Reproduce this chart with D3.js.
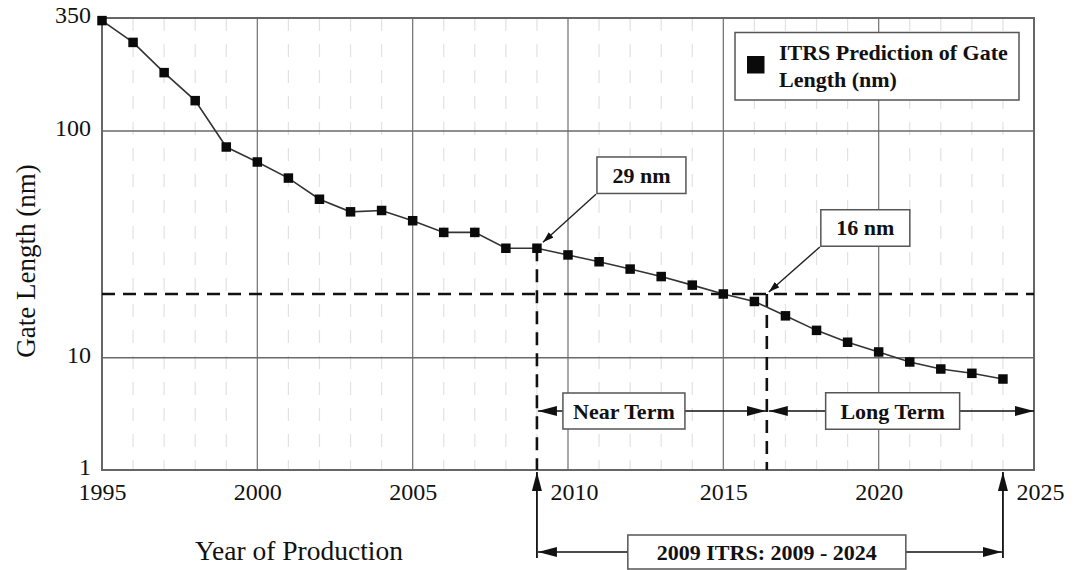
<!DOCTYPE html>
<html>
<head>
<meta charset="utf-8">
<script src="https://cdn.jsdelivr.net/npm/d3@7"></script>
<style>
  body { margin: 0; background: #fff; }
  text { font-family: "Liberation Serif", "Times New Roman", serif; fill: #111; }
</style>
</head>
<body>
<svg id="chart" width="1079" height="570"></svg>
<script>
// ITRS gate length prediction (nm)
const years = [1995, 1996, 1997, 1998, 1999, 2000, 2001, 2002, 2003, 2004,
               2005, 2006, 2007, 2008, 2009, 2010, 2011, 2012, 2013, 2014,
               2015, 2016, 2017, 2018, 2019, 2020, 2021, 2022, 2023, 2024];
const gateLength = [340, 267, 191, 140, 85, 73, 62, 50, 44, 44.6,
                    40.2, 35.7, 35.7, 30.4, 30.4, 28.4, 26.5, 24.6, 22.8, 20.9,
                    19.1, 17.7, 15.3, 13.2, 11.7, 10.6, 9.16, 7.93, 7.26, 6.46];
const xTicks = [1995, 2000, 2005, 2010, 2015, 2020, 2025];
const yTicks = [1, 10, 100, 350];
const refLevel = 19.1;          // horizontal dashed line
const nearStart = 2009, nearEnd = 2016.4, roadmapEnd = 2024;

const svg = d3.select('#chart');
const margin = { top: 18, right: 45, bottom: 100, left: 102 };
const width = +svg.attr('width');
const height = +svg.attr('height');
const pLeft = margin.left, pRight = width - margin.right;
const pTop = margin.top, pBottom = height - margin.bottom;

const x = d3.scaleLinear().domain([1995, 2025]).range([pLeft, pRight]);
// the decades are not drawn the same height, so the log scale is piecewise
const y = d3.scaleLog().domain([1, 10, 100, 350]).range([pBottom, 357.7, 131, pTop]);

const defs = svg.append('defs');
function arrowHead(id, len, wid) {
  defs.append('marker').attr('id', id)
    .attr('viewBox', `0 0 ${len} ${wid}`)
    .attr('refX', len).attr('refY', wid / 2)
    .attr('markerWidth', len).attr('markerHeight', wid)
    .attr('markerUnits', 'userSpaceOnUse')
    .attr('orient', 'auto-start-reverse')
    .append('path')
    .attr('d', `M0,0L${len},${wid / 2}L0,${wid}Z`)
    .attr('fill', '#111');
}
arrowHead('big', 19, 10);
arrowHead('small', 11, 7);

// minor dashed gridlines, one per year
svg.append('g').selectAll('line')
  .data(d3.range(1996, 2025).filter(d => d % 5 !== 0))
  .join('line')
  .attr('x1', d => x(d)).attr('x2', d => x(d))
  .attr('y1', pTop).attr('y2', pBottom)
  .attr('stroke', '#e2e2e2').attr('stroke-width', 1.2)
  .attr('stroke-dasharray', '13,13');

// major gridlines
svg.append('g').selectAll('line')
  .data(xTicks.slice(1, -1))
  .join('line')
  .attr('x1', d => x(d)).attr('x2', d => x(d))
  .attr('y1', pTop).attr('y2', pBottom)
  .attr('stroke', '#7a7a7a').attr('stroke-width', 1.3);
svg.append('g').selectAll('line')
  .data([10, 100])
  .join('line')
  .attr('x1', pLeft).attr('x2', pRight)
  .attr('y1', d => y(d)).attr('y2', d => y(d))
  .attr('stroke', '#6a6a6a').attr('stroke-width', 1.5);

svg.append('rect')
  .attr('x', pLeft).attr('y', pTop)
  .attr('width', pRight - pLeft).attr('height', pBottom - pTop)
  .attr('fill', 'none').attr('stroke', '#666').attr('stroke-width', 2);

// axes
svg.append('g')
  .attr('transform', `translate(0,${pBottom})`)
  .call(d3.axisBottom(x).tickValues(xTicks).tickFormat(d3.format('d')).tickSize(0).tickPadding(13))
  .call(g => g.select('.domain').remove())
  .selectAll('text')
  .attr('dx', d => (d === 2010 || d === 2025) ? 6 : 0)
  .style('font-family', '"Liberation Serif", serif').style('font-size', '24px').attr('fill', '#111');

svg.append('g')
  .attr('transform', `translate(${pLeft},0)`)
  .call(d3.axisLeft(y).tickValues(yTicks).tickFormat(d3.format('d')).tickSize(0).tickPadding(11))
  .call(g => g.select('.domain').remove())
  .selectAll('text')
  .attr('dy', '0.2em')
  .style('font-family', '"Liberation Serif", serif').style('font-size', '24px').attr('fill', '#111');

svg.append('text')
  .attr('transform', 'translate(35,261) rotate(-90)')
  .attr('text-anchor', 'middle')
  .style('font-size', '27px')
  .text('Gate Length (nm)');

svg.append('text')
  .attr('x', 299).attr('y', 560)
  .attr('text-anchor', 'middle')
  .style('font-size', '27.5px')
  .text('Year of Production');

// reference dashed lines
const dash = { stroke: '#111', width: 2.6, pattern: '13,8' };
svg.append('line')
  .attr('x1', pLeft).attr('x2', pRight)
  .attr('y1', y(refLevel)).attr('y2', y(refLevel))
  .attr('stroke', dash.stroke).attr('stroke-width', dash.width)
  .attr('stroke-dasharray', dash.pattern);
svg.append('line')
  .attr('x1', x(nearStart)).attr('x2', x(nearStart))
  .attr('y1', y(gateLength[years.indexOf(nearStart)])).attr('y2', pBottom)
  .attr('stroke', dash.stroke).attr('stroke-width', dash.width)
  .attr('stroke-dasharray', dash.pattern);
svg.append('line')
  .attr('x1', x(nearEnd)).attr('x2', x(nearEnd))
  .attr('y1', y(refLevel)).attr('y2', pBottom)
  .attr('stroke', dash.stroke).attr('stroke-width', dash.width)
  .attr('stroke-dasharray', dash.pattern);

// the series
const points = years.map((yr, i) => [yr, gateLength[i]]);
svg.append('path')
  .datum(points)
  .attr('d', d3.line().x(d => x(d[0])).y(d => y(d[1])))
  .attr('fill', 'none').attr('stroke', '#333').attr('stroke-width', 1.6);

const sq = 9.5;
svg.append('g').selectAll('rect')
  .data(points)
  .join('rect')
  .attr('x', d => x(d[0]) - sq / 2).attr('y', d => y(d[1]) - sq / 2)
  .attr('width', sq).attr('height', sq)
  .attr('fill', '#0a0a0a');

// boxed bold labels
function labelBox(cx, cy, w, h, txt) {
  svg.append('rect')
    .attr('x', cx - w / 2).attr('y', cy - h / 2)
    .attr('width', w).attr('height', h)
    .attr('fill', '#fff').attr('stroke', '#555').attr('stroke-width', 1.5);
  svg.append('text')
    .attr('x', cx).attr('y', cy + 7.5)
    .attr('text-anchor', 'middle')
    .style('font-size', '22px').style('font-weight', 'bold')
    .text(txt);
}

// callouts pointing at the curve
const callouts = [
  { label: '29 nm', year: nearStart, value: gateLength[years.indexOf(nearStart)], dx: 60, dy: -55, tip: [6, -6] },
  { label: '16 nm', year: nearEnd, value: refLevel, dx: 54, dy: -48, tip: [2, -2] }
];
callouts.forEach(c => {
  const px = x(c.year), py = y(c.value);
  svg.append('line')
    .attr('x1', px + c.dx - 1).attr('y1', py + c.dy + 1)
    .attr('x2', px + c.tip[0]).attr('y2', py + c.tip[1])
    .attr('stroke', '#222').attr('stroke-width', 1.4)
    .attr('marker-end', 'url(#small)');
  labelBox(px + c.dx + 44.5, py + c.dy - 18, 89, 36.5, c.label);
});

// term arrows
const termY = pBottom - 59;
function doubleArrow(x1, x2, yy) {
  svg.append('line')
    .attr('x1', x1).attr('x2', x2).attr('y1', yy).attr('y2', yy)
    .attr('stroke', '#111').attr('stroke-width', 1.5)
    .attr('marker-start', 'url(#big)').attr('marker-end', 'url(#big)');
}
doubleArrow(x(nearStart) + 1, x(nearEnd) - 1, termY);
doubleArrow(x(nearEnd) + 2, pRight, termY);
labelBox(x(2011.8), termY, 122, 36, 'Near Term');
labelBox(x(2020.45), termY, 134, 36.5, 'Long Term');

// roadmap span below the axis
const spanY = pBottom + 82;
[nearStart, roadmapEnd].forEach(yr => {
  svg.append('line')
    .attr('x1', x(yr)).attr('x2', x(yr))
    .attr('y1', pBottom + 88).attr('y2', pBottom + 2)
    .attr('stroke', '#111').attr('stroke-width', 1.8)
    .attr('marker-end', 'url(#big)');
});
doubleArrow(x(nearStart) + 1, x(roadmapEnd) - 1, spanY);
labelBox(x(2016.4), spanY, 278, 34, '2009 ITRS: 2009 - 2024');

// legend
const lg = svg.append('g').attr('transform', 'translate(735,32.5)');
lg.append('rect')
  .attr('width', 284).attr('height', 67.5)
  .attr('fill', '#fff').attr('stroke', '#555').attr('stroke-width', 1.5);
lg.append('rect')
  .attr('x', 12).attr('y', 23.5).attr('width', 17.5).attr('height', 17.5)
  .attr('fill', '#0a0a0a');
lg.append('text')
  .attr('x', 44).attr('y', 27.5)
  .style('font-size', '22px').style('font-weight', 'bold')
  .text('ITRS Prediction of Gate');
lg.append('text')
  .attr('x', 44).attr('y', 54)
  .style('font-size', '22px').style('font-weight', 'bold')
  .text('Length (nm)');
</script>
</body>
</html>
